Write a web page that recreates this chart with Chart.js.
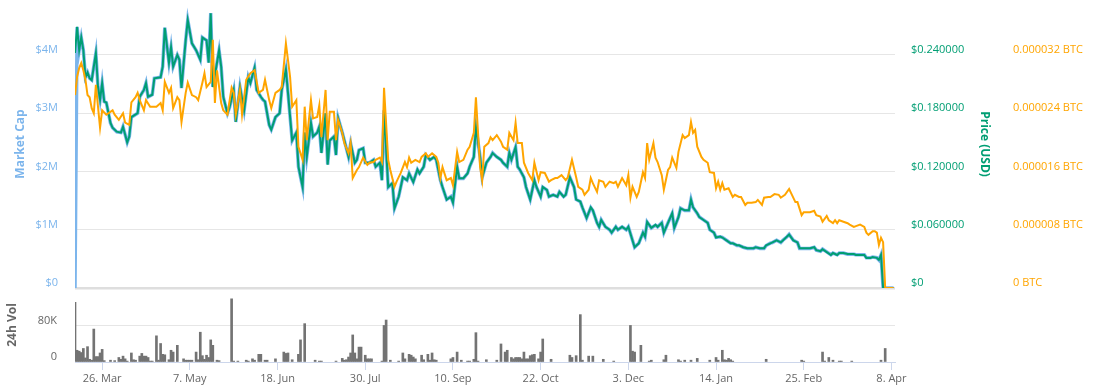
<!DOCTYPE html>
<html>
<head>
<meta charset="utf-8">
<script src="https://cdn.jsdelivr.net/npm/chart.js@4.4.0/dist/chart.umd.min.js"></script>
<style>
  html, body { margin: 0; padding: 0; background: #fff; overflow: hidden; }
  #wrap { position: relative; width: 1097px; height: 390px; }
  #priceChart { position: absolute; left: 0; top: -7px; }
  #volChart { position: absolute; left: 0; top: 281px; }
</style>
</head>
<body>
<div id="wrap">
  <canvas id="priceChart" width="1097" height="302"></canvas>
  <canvas id="volChart" width="1097" height="109"></canvas>
</div>
<script>
"use strict";

// day 0 = 13 Mar 2018, one step = one day
const X_MAX = 392.7;
const tickDays = [13, 55, 97, 139, 181, 223, 265, 307, 349, 391];
const tickLabels = ["26. Mar", "7. May", "18. Jun", "30. Jul", "10. Sep", "22. Oct", "3. Dec", "14. Jan", "25. Feb", "8. Apr"];

// market cap ($M) and price (USD), same days
const usdDays = [0, 1, 2, 3, 4, 5, 6, 7, 8, 10, 11, 12, 13, 14, 15, 17, 18, 20, 22, 23, 25, 26, 27, 30, 31, 33, 34, 35, 37, 38,
  41, 42, 43, 45, 46, 47, 49, 50, 51, 53, 54, 56, 58, 60, 61, 63, 64, 65, 66, 68, 69, 70, 71, 73, 74, 76, 77, 79, 81, 83,
  84, 86, 87, 89, 90, 91, 93, 94, 96, 98, 99, 101, 102, 104, 106, 107, 109, 110, 111, 113, 114, 116, 117, 118, 120, 121, 122, 124, 125, 126,
  128, 129, 131, 132, 134, 135, 136, 138, 139, 141, 143, 144, 146, 147, 148, 150, 152, 153, 155, 157, 159, 160, 162, 164, 165, 167, 168, 170, 172, 173,
  175, 176, 178, 180, 181, 183, 184, 186, 188, 189, 191, 192, 194, 195, 197, 199, 200, 202, 204, 205, 207, 208, 209, 211, 212, 213, 215, 216, 218, 220,
  221, 223, 224, 226, 227, 229, 231, 232, 234, 235, 237, 239, 240, 242, 243, 245, 247, 248, 250, 251, 252, 254, 256, 257, 259, 260, 262, 264, 265, 267,
  268, 270, 272, 273, 274, 276, 278, 279, 281, 282, 284, 286, 287, 289, 290, 292, 294, 295, 296, 298, 299, 301, 303, 304, 306, 307, 309, 310, 312, 314,
  315, 317, 318, 320, 322, 323, 325, 326, 328, 330, 331, 333, 334, 336, 338, 339, 341, 342, 344, 346, 347, 349, 350, 352, 354, 355, 357, 358, 360, 362,
  363, 365, 366, 368, 370, 371, 373, 374, 376, 378, 379, 381, 382, 384, 385, 386, 387, 392];

const marketCap = [0, 4.48, 4.08, 4.30, 4.08, 3.62, 3.70, 3.60, 3.57, 4.03, 3.45, 3.23, 3.52, 3.20, 3.18, 2.83, 2.75, 2.68, 2.67, 2.77, 2.50, 2.60, 2.93, 3.00, 3.28, 3.40, 3.52, 3.28, 3.32, 3.60,
  3.62, 3.80, 4.47, 3.87, 4.13, 3.80, 4.00, 3.92, 3.43, 4.25, 4.60, 4.20, 4.08, 3.92, 4.30, 4.25, 3.87, 4.72, 3.45, 3.87, 4.08, 3.80, 3.28, 3.00, 3.10, 3.40, 2.85, 3.45, 3.05, 3.62,
  3.52, 3.78, 3.40, 3.28, 3.23, 3.20, 2.80, 2.72, 2.93, 3.00, 3.40, 3.75, 3.35, 2.53, 2.67, 2.08, 1.73, 2.67, 2.25, 2.83, 2.60, 2.67, 2.77, 2.32, 3.00, 2.12, 2.53, 2.60, 2.28, 2.92,
  2.67, 2.53, 2.25, 2.48, 2.15, 2.20, 2.37, 2.40, 2.15, 2.15, 2.20, 2.08, 2.15, 1.85, 3.05, 1.73, 1.80, 1.37, 1.57, 1.90, 1.85, 1.97, 1.82, 2.03, 1.97, 2.08, 2.28, 2.20, 2.25, 2.20,
  1.85, 1.73, 1.52, 1.57, 1.47, 2.08, 1.88, 1.88, 1.97, 2.08, 2.25, 2.77, 2.25, 1.90, 2.15, 2.25, 2.32, 2.25, 2.20, 2.15, 2.08, 2.32, 2.20, 2.42, 2.08, 2.03, 1.90, 1.73, 1.52, 1.85,
  1.73, 1.57, 1.73, 1.68, 1.57, 1.60, 1.57, 1.65, 1.57, 1.60, 1.90, 1.73, 1.52, 1.48, 1.38, 1.20, 1.38, 1.33, 1.12, 1.05, 1.17, 1.05, 1.00, 0.95, 1.05, 1.00, 1.05, 1.00, 1.05, 0.82,
  0.70, 0.77, 0.95, 0.88, 1.13, 1.03, 1.08, 1.05, 1.12, 0.95, 1.12, 1.28, 1.03, 1.22, 1.37, 1.33, 1.33, 1.52, 1.38, 1.28, 1.22, 1.17, 1.12, 1.00, 0.95, 0.87, 0.88, 0.87, 0.82, 0.77,
  0.77, 0.73, 0.73, 0.70, 0.68, 0.68, 0.68, 0.70, 0.68, 0.68, 0.73, 0.77, 0.78, 0.82, 0.78, 0.82, 0.88, 0.92, 0.82, 0.78, 0.68, 0.68, 0.68, 0.68, 0.70, 0.65, 0.63, 0.67, 0.62, 0.57,
  0.60, 0.57, 0.60, 0.60, 0.58, 0.58, 0.58, 0.57, 0.57, 0.57, 0.52, 0.52, 0.53, 0.52, 0.48, 0.57, 0, 0];

const priceUsd = [0.242, 0.269, 0.245, 0.258, 0.245, 0.217, 0.222, 0.216, 0.214, 0.242, 0.207, 0.194, 0.211, 0.192, 0.191, 0.170, 0.165, 0.161, 0.160, 0.166, 0.150, 0.156, 0.176, 0.180, 0.197, 0.204, 0.211, 0.197, 0.199, 0.216,
  0.217, 0.228, 0.268, 0.232, 0.248, 0.228, 0.240, 0.235, 0.206, 0.255, 0.276, 0.252, 0.245, 0.235, 0.258, 0.255, 0.232, 0.283, 0.207, 0.232, 0.245, 0.228, 0.197, 0.180, 0.186, 0.204, 0.171, 0.207, 0.183, 0.217,
  0.211, 0.227, 0.204, 0.197, 0.194, 0.192, 0.168, 0.163, 0.176, 0.180, 0.204, 0.225, 0.201, 0.152, 0.160, 0.125, 0.104, 0.160, 0.135, 0.170, 0.156, 0.160, 0.166, 0.139, 0.180, 0.127, 0.152, 0.156, 0.137, 0.175,
  0.160, 0.152, 0.135, 0.149, 0.129, 0.132, 0.142, 0.144, 0.129, 0.129, 0.132, 0.125, 0.129, 0.111, 0.183, 0.104, 0.108, 0.082, 0.094, 0.114, 0.111, 0.118, 0.109, 0.122, 0.118, 0.125, 0.137, 0.132, 0.135, 0.132,
  0.111, 0.104, 0.091, 0.094, 0.088, 0.125, 0.113, 0.113, 0.118, 0.125, 0.135, 0.166, 0.135, 0.114, 0.129, 0.135, 0.139, 0.135, 0.132, 0.129, 0.125, 0.139, 0.132, 0.145, 0.125, 0.122, 0.114, 0.104, 0.091, 0.111,
  0.104, 0.094, 0.104, 0.101, 0.094, 0.096, 0.094, 0.099, 0.094, 0.096, 0.114, 0.104, 0.091, 0.089, 0.083, 0.072, 0.083, 0.080, 0.067, 0.063, 0.070, 0.063, 0.060, 0.057, 0.063, 0.060, 0.063, 0.060, 0.063, 0.049,
  0.042, 0.046, 0.057, 0.053, 0.068, 0.062, 0.065, 0.063, 0.067, 0.057, 0.067, 0.077, 0.062, 0.073, 0.082, 0.080, 0.080, 0.091, 0.083, 0.077, 0.073, 0.070, 0.067, 0.060, 0.057, 0.052, 0.053, 0.052, 0.049, 0.046,
  0.046, 0.044, 0.044, 0.042, 0.041, 0.041, 0.041, 0.042, 0.041, 0.041, 0.044, 0.046, 0.047, 0.049, 0.047, 0.049, 0.053, 0.055, 0.049, 0.047, 0.041, 0.041, 0.041, 0.041, 0.042, 0.039, 0.038, 0.040, 0.037, 0.034,
  0.036, 0.034, 0.036, 0.036, 0.035, 0.035, 0.035, 0.034, 0.034, 0.034, 0.031, 0.031, 0.032, 0.031, 0.029, 0.034, 0, 0];

// price in BTC, in millionths of a BTC
const btcDays = [0, 1, 2, 3, 4, 5, 6, 7, 8, 9, 10, 12, 13, 15, 16, 18, 19, 21, 23, 24, 26, 27, 29, 30, 31, 33, 34, 36, 37, 39,
  41, 42, 43, 45, 46, 47, 49, 50, 51, 53, 54, 56, 58, 59, 61, 62, 63, 65, 66, 67, 68, 70, 71, 73, 75, 76, 77, 79, 80, 82,
  84, 86, 88, 90, 91, 93, 94, 96, 98, 99, 101, 103, 104, 106, 107, 109, 110, 111, 113, 114, 116, 117, 118, 120, 121, 122, 124, 125, 126, 128,
  129, 131, 132, 133, 135, 136, 138, 140, 141, 143, 144, 146, 147, 148, 150, 151, 153, 154, 156, 158, 159, 160, 161, 163, 165, 166, 168, 169, 171, 173,
  174, 175, 176, 178, 180, 181, 183, 184, 186, 188, 189, 191, 192, 194, 195, 196, 198, 199, 200, 202, 204, 205, 207, 208, 210, 211, 212, 214, 215, 217,
  219, 220, 222, 223, 225, 227, 228, 230, 231, 233, 235, 236, 238, 240, 241, 243, 244, 246, 247, 248, 250, 251, 253, 254, 256, 258, 259, 260, 262, 264,
  265, 266, 267, 269, 270, 272, 273, 274, 275, 277, 278, 279, 281, 282, 284, 285, 286, 288, 289, 291, 292, 294, 295, 296, 297, 298, 300, 301, 303, 304,
  306, 307, 308, 309, 310, 311, 313, 315, 316, 318, 319, 321, 322, 324, 326, 327, 329, 330, 332, 333, 335, 337, 338, 340, 342, 343, 345, 346, 348, 349,
  351, 352, 354, 355, 357, 358, 360, 361, 363, 364, 365, 366, 368, 370, 371, 373, 374, 376, 378, 379, 380, 382, 383, 384, 385, 386, 387, 388, 392];

const priceBtc = [26.5, 29.0, 30.2, 30.9, 29.9, 28.6, 26.5, 26.2, 24.7, 24.0, 27.9, 22.0, 24.4, 23.8, 24.0, 24.4, 23.8, 23.1, 24.0, 22.7, 22.4, 25.5, 26.2, 26.8, 25.8, 24.4, 25.8, 24.9, 24.9, 24.9,
  25.4, 24.4, 28.3, 26.8, 27.5, 24.7, 26.2, 25.8, 22.8, 26.8, 28.2, 26.5, 26.2, 25.8, 28.2, 29.5, 27.6, 28.3, 34.1, 25.4, 29.9, 25.4, 24.4, 23.8, 27.5, 26.8, 23.8, 27.2, 23.8, 28.6,
  29.5, 29.9, 26.8, 27.2, 28.6, 25.8, 24.7, 26.8, 27.2, 27.6, 33.6, 29.0, 24.9, 25.8, 19.4, 17.6, 24.9, 20.3, 25.8, 23.3, 23.5, 25.1, 20.7, 27.2, 20.3, 24.2, 24.2, 20.3, 23.1, 21.3,
  19.9, 18.5, 19.9, 15.1, 16.2, 16.6, 17.9, 16.9, 17.2, 17.3, 17.6, 17.9, 17.3, 27.5, 17.6, 16.2, 13.9, 14.6, 15.8, 17.3, 16.6, 17.9, 17.2, 17.6, 17.3, 18.0, 18.5, 18.0, 18.5, 18.0,
  17.2, 15.1, 16.6, 14.8, 15.1, 14.1, 18.7, 17.3, 17.6, 19.0, 19.4, 21.3, 26.2, 16.6, 14.8, 19.4, 19.9, 20.7, 20.3, 21.0, 20.1, 19.4, 19.0, 21.3, 20.3, 22.7, 19.9, 19.9, 17.2, 15.8,
  14.8, 17.2, 14.8, 15.9, 15.8, 14.6, 14.8, 15.1, 15.1, 15.5, 14.8, 15.2, 17.6, 15.2, 13.9, 13.5, 12.8, 13.5, 15.1, 14.4, 13.2, 14.8, 14.6, 13.9, 14.6, 14.4, 14.6, 13.9, 15.1, 14.1,
  15.5, 12.4, 13.9, 12.5, 13.2, 15.9, 15.1, 19.9, 17.6, 19.9, 17.9, 17.3, 15.5, 13.5, 16.2, 16.6, 17.9, 16.5, 18.7, 21.0, 20.6, 21.0, 22.8, 21.3, 21.7, 19.4, 18.0, 17.6, 17.2, 15.9,
  15.8, 13.7, 14.6, 13.5, 14.4, 13.5, 13.7, 12.5, 12.8, 12.5, 12.5, 11.4, 11.7, 11.7, 11.8, 12.1, 11.4, 12.4, 12.5, 12.5, 12.9, 12.8, 12.4, 12.8, 13.6, 13.0, 11.8, 11.8, 10.0, 10.4,
  10.4, 10.4, 10.6, 10.0, 9.8, 9.1, 9.9, 9.3, 8.9, 9.3, 8.9, 9.3, 9.1, 8.9, 8.7, 8.4, 8.5, 8.7, 8.4, 7.6, 7.3, 7.8, 7.8, 7.6, 5.9, 6.9, 6.3, 0, 0];

// 24h volume (thousands of $)
const volDays = [0, 1, 2, 3, 4, 5, 6, 7, 8, 9, 10, 11, 12, 13, 14, 17, 19, 21, 22, 23, 24, 25, 27, 28, 29, 31, 32, 33, 34, 35,
  36, 37, 39, 40, 41, 42, 43, 45, 46, 47, 49, 52, 53, 54, 55, 56, 58, 59, 60, 61, 62, 63, 64, 65, 66, 68, 69, 75, 76, 78,
  82, 83, 85, 86, 88, 89, 91, 92, 96, 100, 101, 102, 104, 107, 108, 110, 115, 117, 118, 125, 128, 129, 130, 131, 132, 133, 134, 135, 136, 137,
  139, 140, 141, 142, 147, 148, 149, 151, 155, 157, 158, 160, 161, 162, 163, 166, 167, 169, 170, 171, 172, 173, 180, 181, 183, 185, 188, 189, 191, 192,
  193, 197, 202, 204, 206, 207, 209, 210, 211, 212, 213, 214, 215, 216, 217, 218, 219, 220, 222, 223, 224, 228, 237, 238, 240, 242, 243, 246, 248, 253,
  258, 266, 267, 268, 271, 275, 276, 282, 283, 289, 290, 292, 295, 298, 304, 307, 308, 310, 311, 312, 313, 314, 315, 331, 348, 349, 358, 359, 361, 363,
  366, 367, 372, 386, 388];

const volume = [132, 26, 24, 21, 30, 9, 34, 6, 4, 73, 12, 12, 20, 28, 3, 4, 3, 10, 6, 13, 7, 2, 20, 5, 4, 13, 19, 13, 13, 10,
  2, 2, 58, 4, 41, 17, 16, 5, 26, 22, 37, 7, 4, 4, 4, 4, 22, 5, 66, 14, 6, 15, 10, 49, 37, 4, 3, 140, 2, 2,
  4, 2, 7, 4, 17, 17, 4, 4, 7, 22, 19, 20, 5, 17, 49, 85, 4, 2, 2, 2, 8, 4, 5, 11, 20, 60, 20, 7, 33, 33,
  15, 7, 7, 7, 2, 81, 93, 4, 2, 20, 7, 17, 15, 11, 7, 15, 5, 17, 4, 20, 5, 4, 7, 10, 22, 4, 2, 2, 6, 65,
  2, 5, 4, 40, 22, 26, 10, 7, 10, 10, 10, 7, 22, 7, 7, 14, 16, 17, 7, 22, 51, 6, 15, 10, 14, 105, 4, 13, 13, 6,
  2, 81, 24, 22, 37, 2, 4, 5, 15, 5, 2, 4, 4, 8, 4, 10, 4, 26, 5, 4, 8, 5, 2, 6, 4, 2, 22, 2, 10, 4,
  2, 2, 2, 4, 30];

const mcapTicks = [0, 1, 2, 3, 4];
const usdTicks = [0, 0.06, 0.12, 0.18, 0.24];
const btcTicks = [0, 8, 16, 24, 32];
const volTicks = [0, 80];

const FONT = "'Open Sans', 'DejaVu Sans', sans-serif";

function points(xs, ys) {
  return xs.map(function (d, i) {
    return { x: d, y: ys[i] };
  });
}

function fixTicks(values) {
  return function (scale) {
    scale.ticks = values.map(function (v) {
      return { value: v };
    });
  };
}

// fixed axis width, and no extra room for the end labels
function fixWidth(w) {
  return function (scale) {
    scale.width = w;
    scale.paddingTop = 0;
    scale.paddingBottom = 0;
  };
}

new Chart(document.getElementById("priceChart"), {
  type: "line",
  data: {
    datasets: [
      {
        label: "Market Cap",
        data: points(usdDays, marketCap),
        yAxisID: "mcap",
        borderColor: "#7cb5ec",
        borderWidth: 3.5,
        order: 3,
      },
      {
        label: "Price (USD)",
        data: points(usdDays, priceUsd),
        yAxisID: "usd",
        borderColor: "#009e73",
        borderWidth: 2,
        order: 2,
      },
      {
        label: "Price (BTC)",
        data: points(btcDays, priceBtc),
        yAxisID: "btc",
        borderColor: "#ffa500",
        borderWidth: 2,
        order: 1,
      },
    ],
  },
  options: {
    responsive: false,
    animation: false,
    events: [],
    layout: { padding: { top: 7, bottom: 7, left: 0, right: 0 } },
    elements: {
      point: { radius: 0 },
      line: { tension: 0 },
    },
    plugins: {
      legend: { display: false },
      tooltip: { enabled: false },
    },
    scales: {
      x: {
        type: "linear",
        min: 0,
        max: X_MAX,
        display: false,
      },
      mcap: {
        position: "left",
        min: 0,
        max: 4.944,
        afterBuildTicks: fixTicks(mcapTicks),
        afterFit: fixWidth(75),
        border: { display: false },
        grid: {
          drawTicks: false,
          color: function (ctx) {
            return ctx.tick && ctx.tick.value === 0 ? "#dedede" : "#e6e6e6";
          },
          lineWidth: function (ctx) {
            return ctx.tick && ctx.tick.value === 0 ? 2.5 : 1;
          },
        },
        ticks: {
          padding: 17,
          labelOffset: -5,
          color: "#7cb5ec",
          font: { family: FONT, size: 11 },
          callback: function (v) {
            return "$" + v + (v === 0 ? "" : "M");
          },
        },
        title: {
          display: true,
          text: "Market Cap",
          color: "#7cb5ec",
          padding: { top: 13, bottom: 0 },
          font: { family: FONT, size: 12, weight: "bold" },
        },
      },
      usd: {
        position: "right",
        weight: 0,
        min: 0,
        max: 0.2966,
        afterBuildTicks: fixTicks(usdTicks),
        afterFit: fixWidth(100),
        border: { display: false },
        grid: { drawOnChartArea: false, drawTicks: false },
        ticks: {
          padding: 16,
          labelOffset: -5,
          color: "#009e73",
          font: { family: FONT, size: 11 },
          callback: function (v) {
            return v === 0 ? "$0" : "$" + v.toFixed(6);
          },
        },
        title: {
          display: true,
          text: "Price (USD)",
          color: "#009e73",
          padding: { top: 3, bottom: 0 },
          font: { family: FONT, size: 12, weight: "bold" },
        },
      },
      btc: {
        position: "right",
        weight: 1,
        min: 0,
        max: 39.55,
        afterBuildTicks: fixTicks(btcTicks),
        afterFit: fixWidth(102),
        border: { display: false },
        grid: { drawOnChartArea: false, drawTicks: false },
        ticks: {
          padding: 18,
          labelOffset: -5,
          color: "#ffa500",
          font: { family: FONT, size: 11 },
          callback: function (v) {
            return v === 0 ? "0 BTC" : (v / 1e6).toFixed(6) + " BTC";
          },
        },
      },
    },
  },
});

// 24h volume panel
new Chart(document.getElementById("volChart"), {
  type: "bar",
  data: {
    datasets: [
      {
        label: "24h Vol",
        data: points(volDays, volume),
        backgroundColor: "#737373",
        barThickness: 2,
      },
    ],
  },
  options: {
    responsive: false,
    animation: false,
    events: [],
    layout: { padding: { top: 7, bottom: 0, left: 0, right: 202 } },
    plugins: {
      legend: { display: false },
      tooltip: { enabled: false },
    },
    scales: {
      x: {
        type: "linear",
        offset: false,
        min: 0,
        max: X_MAX,
        afterBuildTicks: fixTicks(tickDays),
        afterFit: function (scale) {
          scale.height = 28;
          scale.paddingLeft = 0;
          scale.paddingRight = 0;
        },
        border: { display: true, color: "#ccd6eb", width: 1 },
        grid: {
          offset: false,
          drawOnChartArea: false,
          drawTicks: true,
          tickLength: 8,
          color: "#ccd6eb",
        },
        ticks: {
          padding: 2,
          maxRotation: 0,
          autoSkip: false,
          color: "#666666",
          font: { family: FONT, size: 11 },
          callback: function (value, index) {
            return tickLabels[index];
          },
        },
      },
      y: {
        position: "left",
        min: 0,
        max: 164,
        afterBuildTicks: fixTicks(volTicks),
        afterFit: fixWidth(75),
        border: { display: false },
        grid: {
          drawTicks: false,
          color: function (ctx) {
            return ctx.tick && ctx.tick.value === 0 ? "rgba(0,0,0,0)" : "#e6e6e6";
          },
        },
        ticks: {
          padding: 18,
          labelOffset: -5,
          color: "#666666",
          font: { family: FONT, size: 11 },
          callback: function (v) {
            return v === 0 ? "0" : v + "K";
          },
        },
        title: {
          display: true,
          text: "24h Vol",
          color: "#666666",
          padding: { top: 5, bottom: 0 },
          font: { family: FONT, size: 12, weight: "bold" },
        },
      },
    },
  },
});
</script>
</body>
</html>
